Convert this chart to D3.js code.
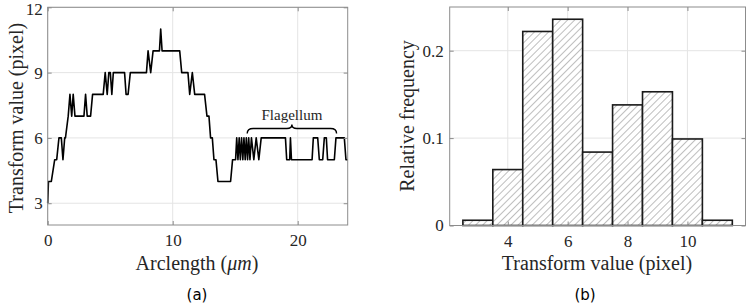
<!DOCTYPE html>
<html>
<head>
<meta charset="utf-8">
<script src="https://cdn.jsdelivr.net/npm/d3@7"></script>
<style>
  body { margin: 0; background: #fff; }
  svg { display: block; }
  .tick text { font-family: 'Liberation Serif', serif; font-size: 17px; fill: #262626; }
  .title { font-family: 'Liberation Serif', serif; font-size: 20px; fill: #262626; }
  .panel { font-family: 'DejaVu Sans', sans-serif; font-size: 15px; fill: #000; }
</style>
</head>
<body>
<svg width="747" height="305"></svg>
<script>
// (a) transform value along the arclength
const arclength = [0, 0.06, 0.29, 0.56, 0.72, 0.90, 1.09, 1.22, 1.36, 1.42,
  1.64, 1.78, 1.92, 2.04, 2.18, 2.90, 3.03, 3.16, 3.43, 3.59,
  4.44, 4.60, 4.76, 4.89, 5.01, 5.13, 5.25, 6.15, 6.27, 6.43,
  6.61, 7.90, 8.03, 8.24, 8.43, 8.94, 9.04, 9.15, 10.56, 10.72,
  11.22, 11.36, 11.57, 11.76, 12.55, 12.74, 12.90, 13.03, 13.17, 13.30,
  13.46, 13.62, 14.63, 14.79, 15.03, 15.12, 15.22, 15.32, 15.41, 15.51,
  15.61, 15.70, 15.80, 15.89, 15.99, 16.08, 16.18, 16.30, 16.49, 16.68,
  16.89, 17.08, 19.02, 19.12, 19.36, 19.42, 19.50, 21.15, 21.25, 21.60,
  21.73, 22.00, 22.13, 22.29, 22.39, 22.93, 23.06, 23.73, 23.86, 24];
const transformValue = [3, 4, 4, 5, 5, 6, 6, 5, 6, 6,
  7, 8, 7, 8, 7, 7, 8, 7, 7, 8,
  8, 9, 8, 9, 9, 8, 9, 9, 8, 8,
  9, 9, 10, 9, 10, 10, 11, 10, 10, 9,
  9, 8, 9, 8, 8, 7, 7, 6, 6, 5,
  5, 4, 4, 5, 5, 6, 5, 6, 5, 6,
  5, 6, 5, 6, 5, 6, 5, 6, 5, 6,
  5, 6, 6, 5, 5, 6, 5, 5, 6, 6,
  5, 5, 6, 6, 5, 5, 6, 6, 5, 5];
const leftXTicks = [0, 10, 20];
const leftYTicks = [3, 6, 9, 12];
const flagellumRange = [15.96, 23.11];

// (b) histogram of the transform value
const binCenters = [3, 4, 5, 6, 7, 8, 9, 10, 11];
const relFreq = [0.006, 0.064, 0.222, 0.236, 0.084, 0.138, 0.153, 0.099, 0.006];
const rightXTicks = [4, 6, 8, 10];
const rightYTicks = [0, 0.1, 0.2];

const svg = d3.select('svg');
const boxColor = '#8c8c8c';
const gridColor = '#e4e4e4';

//hatch pattern for the bars
svg.append('defs').append('pattern')
  .attr('id', 'hatch')
  .attr('patternUnits', 'userSpaceOnUse')
  .attr('width', 5).attr('height', 5)
  .attr('patternTransform', 'rotate(45)')
  .call(p => {
    p.append('rect').attr('width', 5).attr('height', 5).attr('fill', '#fff');
    p.append('line').attr('x1', 0).attr('y1', 0).attr('x2', 0).attr('y2', 5)
      .attr('stroke', '#6e6e6e').attr('stroke-width', 0.9);
  });

//draws grid, box and inward ticks, returns the plot group
const frame = (xScale, yScale, xTicks, yTicks, xFmt, yFmt, yPad) => {
  const [x0, x1] = xScale.range();
  const [y0, y1] = yScale.range();
  const g = svg.append('g');

  g.append('g').selectAll('line').data(xTicks).enter().append('line')
    .attr('x1', d => xScale(d)).attr('x2', d => xScale(d))
    .attr('y1', y0).attr('y2', y1)
    .attr('stroke', gridColor);
  g.append('g').selectAll('line').data(yTicks).enter().append('line')
    .attr('y1', d => yScale(d)).attr('y2', d => yScale(d))
    .attr('x1', x0).attr('x2', x1)
    .attr('stroke', gridColor);

  const plot = g.append('g');

  const axes = g.append('g');
  axes.append('g').attr('transform', `translate(0, ${y0})`)
    .call(d3.axisBottom(xScale).tickValues(xTicks).tickFormat(xFmt).tickSizeInner(-4).tickSizeOuter(0).tickPadding(9));
  axes.append('g').attr('transform', `translate(0, ${y1})`)
    .call(d3.axisTop(xScale).tickValues(xTicks).tickFormat('').tickSizeInner(-4).tickSizeOuter(0));
  const yAxis = axes.append('g').attr('transform', `translate(${x0}, 0)`)
    .call(d3.axisLeft(yScale).tickValues(yTicks).tickFormat(yFmt).tickSizeInner(-4).tickSizeOuter(0).tickPadding(yPad));
  axes.append('g').attr('transform', `translate(${x1}, 0)`)
    .call(d3.axisRight(yScale).tickValues(yTicks).tickFormat('').tickSizeInner(-4).tickSizeOuter(0));
  axes.selectAll('.domain').remove();
  axes.selectAll('.tick line').attr('stroke', boxColor);

  //keep the top label inside the picture
  yAxis.selectAll('.tick text')
    .filter(d => yScale(d) < 10)
    .attr('dy', '0.40em');

  g.append('rect')
    .attr('x', x0).attr('y', y1)
    .attr('width', x1 - x0).attr('height', y0 - y1)
    .attr('fill', 'none').attr('stroke', boxColor).attr('stroke-width', 1);

  return plot;
};

// ---------- panel (a)
const xA = d3.scaleLinear().domain([0, 24]).range([47.7, 347.7]);
const yA = d3.scaleLinear().domain([2, 12]).range([225, 7.3]);
const plotA = frame(xA, yA, leftXTicks, leftYTicks, d3.format('d'), d3.format('d'), 5);

const pts = arclength.map((s, i) => [s, transformValue[i]]);
plotA.append('path')
  .datum(pts)
  .attr('fill', 'none')
  .attr('stroke', '#000')
  .attr('stroke-width', 1.6)
  .attr('stroke-linejoin', 'round')
  .attr('d', d3.line().x(d => xA(d[0])).y(d => yA(d[1])));

//flagellum brace
const bx0 = xA(flagellumRange[0]), bx1 = xA(flagellumRange[1]);
const bxc = (bx0 + bx1) / 2, by = 128.5;
plotA.append('path')
  .attr('fill', 'none').attr('stroke', '#000').attr('stroke-width', 1.4)
  .attr('d', `M${bx0},${by + 5} Q${bx0},${by} ${bx0 + 6},${by} L${bxc - 5},${by}
    Q${bxc},${by} ${bxc},${by - 4} Q${bxc},${by} ${bxc + 5},${by} L${bx1 - 6},${by}
    Q${bx1},${by} ${bx1},${by + 5}`);
plotA.append('text')
  .attr('x', bxc).attr('y', 119.5)
  .attr('text-anchor', 'middle')
  .style('font-family', "'Liberation Serif', serif").style('font-size', '15px').attr('fill', '#262626')
  .text('Flagellum');

svg.append('text').attr('class', 'title')
  .attr('x', 197).attr('y', 270).attr('text-anchor', 'middle')
  .call(t => {
    t.append('tspan').text('Arclength (');
    t.append('tspan').style('font-style', 'italic').text('μm');
    t.append('tspan').text(')');
  });
svg.append('text').attr('class', 'title')
  .attr('transform', 'translate(23, 118) rotate(-90)').attr('text-anchor', 'middle')
  .text('Transform value (pixel)');
svg.append('text').attr('class', 'panel')
  .attr('x', 197).attr('y', 300).attr('text-anchor', 'middle').text('(a)');

// ---------- panel (b)
const xB = d3.scaleLinear().domain([2.06, 11.94]).range([449.7, 745.5]);
const yB = d3.scaleLinear().domain([0, 0.25]).range([225.5, 7]);
const plotB = frame(xB, yB, rightXTicks, rightYTicks, d3.format('d'), d => d === 0 ? '0' : d3.format('.1f')(d), 6);

plotB.selectAll('rect').data(binCenters).enter().append('rect')
  .attr('x', d => xB(d - 0.5))
  .attr('width', d => xB(d + 0.5) - xB(d - 0.5))
  .attr('y', (d, i) => yB(relFreq[i]))
  .attr('height', (d, i) => yB(0) - yB(relFreq[i]))
  .attr('fill', 'url(#hatch)')
  .attr('stroke', '#1a1a1a')
  .attr('stroke-width', 1.6);

svg.append('text').attr('class', 'title')
  .attr('x', 597).attr('y', 270).attr('text-anchor', 'middle')
  .text('Transform value (pixel)');
svg.append('text').attr('class', 'title')
  .attr('transform', 'translate(414, 116) rotate(-90)').attr('text-anchor', 'middle')
  .text('Relative frequency');
svg.append('text').attr('class', 'panel')
  .attr('x', 585).attr('y', 300).attr('text-anchor', 'middle').text('(b)');
</script>
</body>
</html>
